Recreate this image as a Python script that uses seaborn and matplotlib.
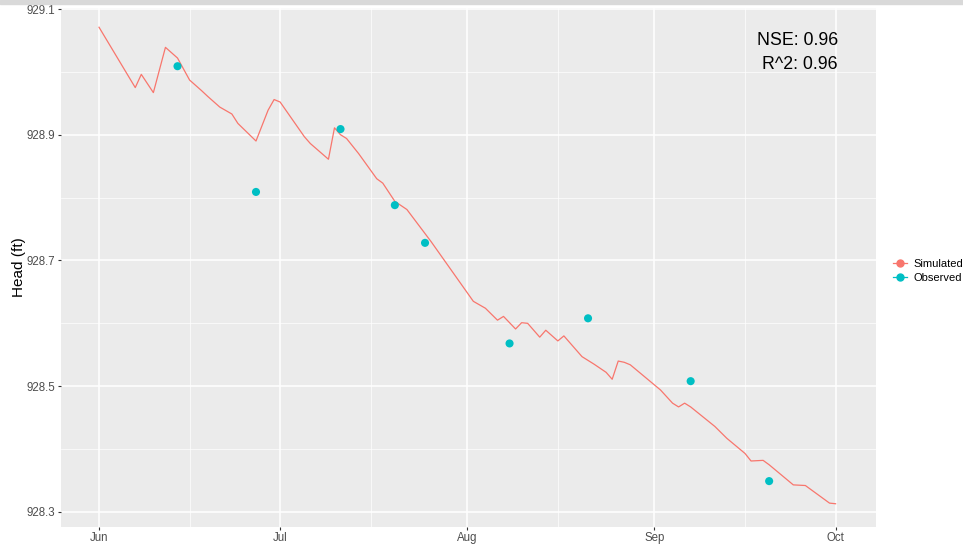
import pandas as pd
import numpy as np
import seaborn as sns
import matplotlib.pyplot as plt
import matplotlib.dates as mdates
from matplotlib.lines import Line2D
from matplotlib.patches import Rectangle

# simulated head (vertices of the daily line), days after Jun 1
sim_days = [0, 6, 7, 9, 11, 13, 15, 17, 18, 20, 22, 23, 26, 28, 29, 30, 34, 35,
            38, 39, 40, 41, 43, 46, 47, 49, 51, 55, 62, 64, 66, 67, 69, 70, 71,
            73, 74, 76, 77, 80, 82, 84, 85, 86, 87, 88, 93, 95, 96, 97, 98, 102,
            104, 107, 108, 110, 111, 115, 117, 121, 122]
sim_head = [929.071, 928.975, 928.996, 928.967, 929.039, 929.022, 928.987,
            928.970, 928.961, 928.944, 928.933, 928.918, 928.890, 928.939,
            928.956, 928.952, 928.897, 928.886, 928.861, 928.911, 928.900,
            928.894, 928.870, 928.830, 928.823, 928.794, 928.781, 928.730,
            928.635, 928.624, 928.605, 928.611, 928.591, 928.601, 928.600,
            928.578, 928.589, 928.572, 928.580, 928.547, 928.535, 928.522,
            928.511, 928.540, 928.538, 928.534, 928.494, 928.473, 928.467,
            928.473, 928.467, 928.436, 928.417, 928.393, 928.381, 928.382,
            928.375, 928.343, 928.342, 928.314, 928.313]

# observed head
obs_days = [13, 26, 40, 49, 54, 68, 81, 98, 111]
obs_head = [929.009, 928.809, 928.909, 928.788, 928.728, 928.568, 928.608,
            928.508, 928.349]

start = pd.Timestamp("2020-06-01")
sim = pd.DataFrame({"date": start + pd.to_timedelta(sim_days, unit="D"), "head": sim_head})
obs = pd.DataFrame({"date": start + pd.to_timedelta(obs_days, unit="D"), "head": obs_head})

sim_col = "#F8766D"
obs_col = "#00BFC4"

plt.rcParams['font.family'] = ['Liberation Sans', 'DejaVu Sans']

fig = plt.figure(figsize=(9.63, 5.44), dpi=100)
ax = fig.add_axes([61 / 963, 1 - 527 / 544, (876 - 61) / 963, (527 - 8) / 544])
ax.set_facecolor("#EBEBEB")

sns.lineplot(data=sim, x="date", y="head", color=sim_col, linewidth=0.9, ax=ax)
sns.scatterplot(data=obs, x="date", y="head", color=obs_col, s=34,
                edgecolor="none", ax=ax, zorder=3)

ax.set_xlim(start - pd.Timedelta(days=6.3), start + pd.Timedelta(days=128.7))
ax.set_ylim(928.276, 929.1016)

ax.xaxis.set_major_locator(mdates.MonthLocator())
ax.xaxis.set_major_formatter(mdates.DateFormatter("%b"))
ax.xaxis.set_minor_locator(mdates.MonthLocator(bymonthday=16))
ax.set_yticks([928.3, 928.5, 928.7, 928.9, 929.1])
ax.set_yticklabels(["928.3", "928.5", "928.7", "928.9", "929.1"])
ax.set_yticks([928.4, 928.6, 928.8, 929.0], minor=True)

ax.grid(which="major", color="white", linewidth=1.1)
ax.grid(which="minor", color="white", linewidth=0.5)
ax.set_axisbelow(True)
for s in ax.spines.values():
    s.set_visible(False)
ax.tick_params(which="major", length=2.5, color="#333333", labelsize=8.3,
               labelcolor="#4D4D4D", pad=2)
ax.tick_params(axis="x", which="major", pad=1)
ax.tick_params(which="minor", length=0)

ax.set_xlabel("")
ax.set_ylabel("Head (ft)", fontsize=11, color="black")
ax.yaxis.set_label_coords(-0.043, 0.5)

ax.text(0.953, 0.953, "NSE: 0.96\nR^2: 0.96", transform=ax.transAxes,
        ha="right", va="top", fontsize=12.8, linespacing=1.5)

handles = [Line2D([], [], color=sim_col, marker="o", markersize=5, linewidth=0.9),
           Line2D([], [], color=obs_col, marker="o", markersize=5, linewidth=0.9)]
leg = fig.legend(handles, ["Simulated", "Observed"], loc="center left",
                 bbox_to_anchor=(883 / 963, 1 - 271 / 544), frameon=False,
                 fontsize=8, handlelength=1.3, handletextpad=0.5, labelspacing=0.35)

# thin grey strip along the top edge of the screenshot
fig.patches.append(Rectangle((0, 1 - 4 / 544), 1, 4 / 544, transform=fig.transFigure,
                             color="#D9D9D9", zorder=0))

plt.savefig("out.png", dpi=100)
plt.close()
